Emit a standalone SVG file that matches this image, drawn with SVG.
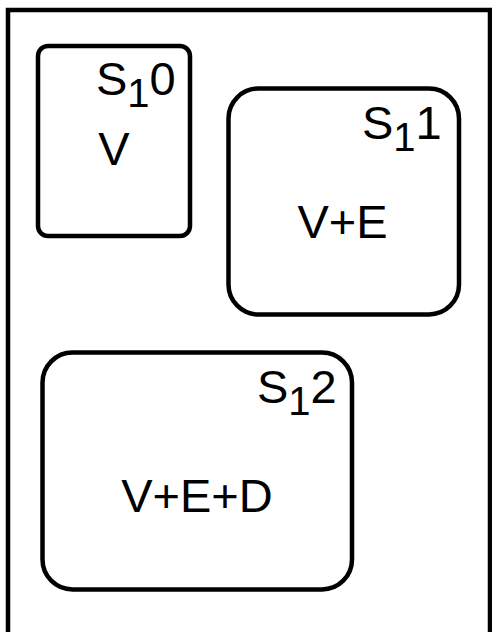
<svg xmlns="http://www.w3.org/2000/svg" width="492" height="632" viewBox="0 0 492 632">
<style>
.frame{fill:#fff;stroke:#000;stroke-width:4.5}
.node{fill:#fff;stroke:#000;stroke-width:4.5}
.t{font-family:"Liberation Sans",Arial,sans-serif;font-size:47px;fill:#000}
.sub{font-size:40px}
</style>
<rect width="492" height="632" fill="#fff"/>
<rect class="frame" x="8" y="10" width="482" height="640"/>
<g id="S10">
<rect class="node" x="38" y="46" width="152" height="190" rx="10"/>
<text class="t" x="96" y="95">S<tspan class="sub" dy="12">1</tspan><tspan dy="-12">0</tspan></text>
<text class="t" x="114" y="165" text-anchor="middle">V</text>
</g>
<g id="S11">
<rect class="node" x="228.5" y="88.5" width="230.5" height="226" rx="30"/>
<text class="t" x="362" y="139">S<tspan class="sub" dy="12">1</tspan><tspan dy="-12">1</tspan></text>
<text class="t" x="342.5" y="238" text-anchor="middle">V+E</text>
</g>
<g id="S12">
<rect class="node" x="42.5" y="352.5" width="309.5" height="237" rx="30"/>
<text class="t" x="257" y="403">S<tspan class="sub" dy="12">1</tspan><tspan dy="-12">2</tspan></text>
<text class="t" x="197" y="512" text-anchor="middle">V+E+D</text>
</g>
<g id="connectors"></g>
</svg>
